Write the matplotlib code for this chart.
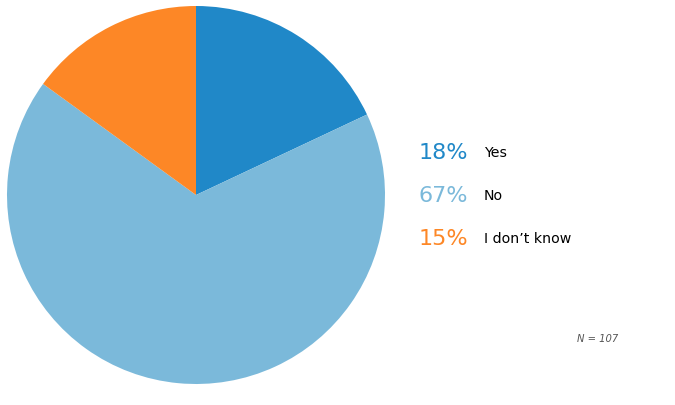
import matplotlib
matplotlib.use("Agg")
import matplotlib.pyplot as plt

categories = ["Yes", "No", "I don\u2019t know"]
shares = [18, 67, 15]
colors = ["#2088c8", "#7bb9da", "#fd8726"]
n_total = 107

W, H = 675, 406
fig = plt.figure(figsize=(W / 100, H / 100), dpi=100)

cx, cy, r = 196, 196, 189
ax = fig.add_axes([(cx - r) / W, (H - cy - r) / H, 2 * r / W, 2 * r / H])
ax.pie(shares, colors=colors, startangle=90, counterclock=False,
       radius=1, wedgeprops=dict(linewidth=0))
ax.set_xlim(-1, 1)
ax.set_ylim(-1, 1)
ax.set_aspect("equal")
ax.axis("off")

# legend rows
row_y = [153, 196, 239]
for cat, val, col, y in zip(categories, shares, colors, row_y):
    fig.text(419 / W, 1 - y / H, f"{val}%", color=col, fontsize=16,
             ha="left", va="center")
    fig.text(484 / W, 1 - y / H, cat, color="black", fontsize=10.2,
             ha="left", va="center")

fig.text(577 / W, 1 - 339 / H, f"N = {n_total}", color="#555555",
         fontsize=7.2, style="italic", ha="left", va="center")

fig.savefig("out.png", dpi=100)
